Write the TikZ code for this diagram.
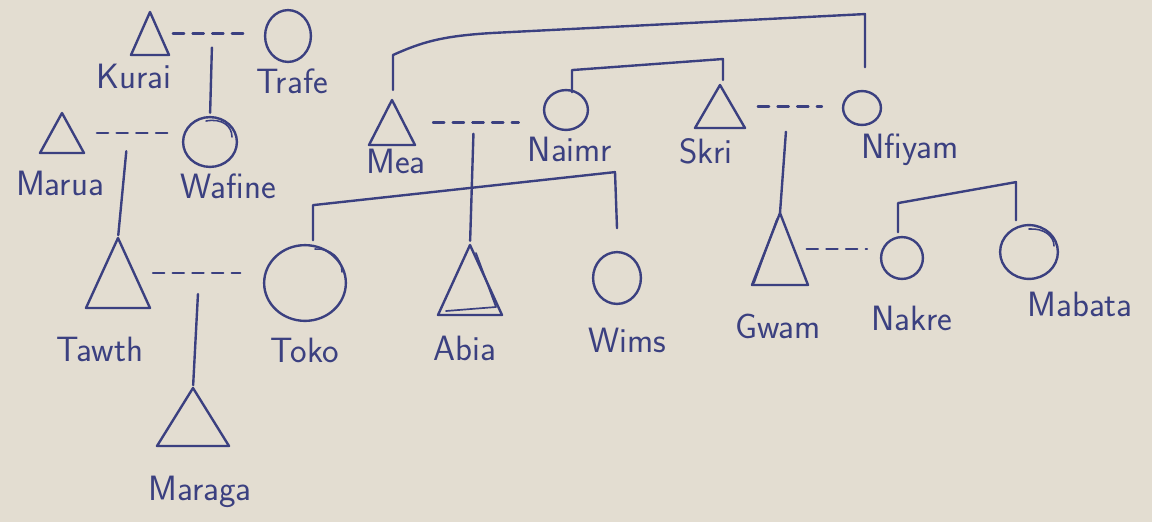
\documentclass[tikz,border=0pt]{standalone}
\usetikzlibrary{shapes.geometric,calc}
\definecolor{ink}{HTML}{3B4080}
\definecolor{paper}{HTML}{E3DDD1}
\newcommand\kintri[5]{%
  \coordinate (#1) at (#2,#3);
  \coordinate (#1-r) at ({#2+#4/2},{#3+#5/2});
  \draw[pen] (#1) -- ++(#4,#5) -- ++({-2*#4},0) -- cycle;}
\newcommand\kincirc[5]{%
  \node[circ, minimum width={#4*1.4174pt}, minimum height={#5*1.4174pt}] (#1) at (#2,#3) {};}
\begin{document}
\begin{tikzpicture}[x=0.025cm,y=-0.025cm,
  pen/.style={draw=ink, line width=1.7pt, line cap=round, line join=round},
  circ/.style={ellipse, draw=ink, line width=1.7pt, inner sep=0pt, outer sep=0pt},
  marr/.style={pen, dash pattern=on 8pt off 6pt},
  lab/.style={anchor=base, text=ink, font=\sffamily\fontsize{25}{30}\selectfont, inner sep=0pt}]
\useasboundingbox[fill=paper] (0,0) rectangle (1152,522);

% triangles (males)
\kintri{kurai}{150}{12}{19}{43}
\kintri{marua}{62}{113}{22}{40}
\kintri{tawth}{118}{238}{32}{70}
\kintri{maraga}{193}{388}{36}{58}
\kintri{mea}{392}{100}{23}{45}
\kintri{abia}{470}{245}{32}{70}
\kintri{skri}{720}{85}{25}{43}
\kintri{gwam}{780}{213}{28}{72}
% inner retrace lines
\draw[pen, line width=1.2pt] ($(abia)+(6,8)$) -- ($(abia)+(26,62)$) -- ($(abia)+(-24,66)$);
\draw[pen, line width=1.2pt] ($(gwam)+(-3,6)$) -- ($(gwam)+(-26,70)$);

% circles (females)
\kincirc{trafe}{288}{36}{23}{26}
\kincirc{wafine}{210}{142}{27}{25}
\kincirc{toko}{305}{283}{41}{38}
\kincirc{wims}{617}{278}{24}{26}
\kincirc{naimr}{566}{110}{22}{20}
\kincirc{nfiyam}{862}{108}{19}{17}
\kincirc{nakre}{902}{258}{21}{21}
\kincirc{mabata}{1029}{252}{29}{27}
% small retrace strokes inside the rims
\draw[pen, line width=1.1pt] ($(wafine.center)+(-4,-21)$) .. controls ($(wafine.center)+(12,-24)$) and ($(wafine.center)+(22,-16)$) .. ($(wafine.center)+(22,-5)$);
\draw[pen, line width=1.1pt] ($(toko.center)+(10,-34)$) .. controls ($(toko.center)+(25,-35)$) and ($(toko.center)+(37,-25)$) .. ($(toko.center)+(37,-11)$);
\draw[pen, line width=1.1pt] ($(mabata.center)+(0,-23)$) .. controls ($(mabata.center)+(15,-24)$) and ($(mabata.center)+(25,-16)$) .. ($(mabata.center)+(25,-6)$);

% labels
\node[lab] (kurai-l) at (134,88) {Kurai};
\node[lab] (trafe-l) at (292,93) {Trafe};
\node[lab] (marua-l) at (60,195) {Marua};
\node[lab] (wafine-l) at (228,198) {Wafine};
\node[lab] (tawth-l) at (100,361) {Tawth};
\node[lab] (toko-l) at (305,362) {Toko};
\node[lab] (maraga-l) at (200,500) {Maraga};
\node[lab] (mea-l) at (396,173) {Mea};
\node[lab] (naimr-l) at (570,161) {Naimr};
\node[lab] (skri-l) at (706,163) {Skri};
\node[lab] (nfiyam-l) at (910,158) {Nfiyam};
\node[lab] (abia-l) at (465,360) {Abia};
\node[lab] (wims-l) at (627,352) {Wims};
\node[lab] (gwam-l) at (778,338) {Gwam};
\node[lab] (nakre-l) at (912,330) {Nakre};
\node[lab] (mabata-l) at (1080,316) {Mabata};

% marriages
\draw[marr, shorten <=9.5pt, shorten >=12.5pt] (kurai-r) -- (kurai-r -| trafe.west);
\draw[marr, shorten <=17pt, shorten >=9pt] (marua-r) -- (marua-r -| wafine.west);
\draw[marr, shorten <=13.5pt, shorten >=17pt] (tawth-r) -- (tawth-r -| toko.west);
\draw[marr, shorten <=21pt, shorten >=18pt] (mea-r) -- (mea-r -| naimr.west);
\draw[marr, shorten <=18pt, shorten >=15pt] (skri-r) -- (skri-r -| nfiyam.west);
\draw[marr, shorten <=9pt, shorten >=10pt] (gwam-r) -- (gwam-r -| nakre.west);

% marriage midpoints
\coordinate (kt) at ($(kurai-r)!0.5!(kurai-r -| trafe.west)$);
\coordinate (mw) at ($(marua-r)!0.5!(marua-r -| wafine.west)$);
\coordinate (tt) at ($(tawth-r)!0.5!(tawth-r -| toko.west)$);
\coordinate (mn) at ($(mea-r)!0.5!(mea-r -| naimr.west)$);
\coordinate (sn) at ($(skri-r)!0.5!(skri-r -| nfiyam.west)$);

% descent lines
\draw[pen, shorten <=10pt, shorten >=3pt] (kt) -- (wafine.north);
\draw[pen, shorten <=13pt, shorten >=2pt] (mw) -- (tawth);
\draw[pen, shorten <=15pt, shorten >=2pt] (tt) -- (maraga);
\draw[pen, shorten <=8pt, shorten >=3pt] (mn) -- (abia);
\draw[pen, shorten <=18pt, shorten >=0pt] (sn) -- (gwam);

% sibling bars
\draw[pen] ($(toko.north)+(8,-5)$) -- ($(toko.north)+(8,-40)$) -- ($(wims.north)+(-2,-80)$) -- ($(wims.north)+(0,-24)$);
\draw[pen] ($(mea)+(1,-10)$) -- ($(mea)+(1,-45)$) .. controls ($(mea)+(30,-58)$) and ($(mea)+(50,-64)$) .. ($(mea)+(100,-67)$) -- ($(nfiyam.north)+(3,-77)$) -- ($(nfiyam.north)+(3,-24)$);
\draw[pen] ($(naimr.north)+(6,2)$) -- ($(naimr.north)+(6,-20)$) -- ($(skri)+(3,-26)$) -- ($(skri)+(3,-5)$);
\draw[pen] ($(nakre.north)+(-4,-5)$) -- ($(nakre.north)+(-4,-34)$) -- ($(mabata.north)+(-13,-43)$) -- ($(mabata.north)+(-13,-5)$);
\end{tikzpicture}
\end{document}
